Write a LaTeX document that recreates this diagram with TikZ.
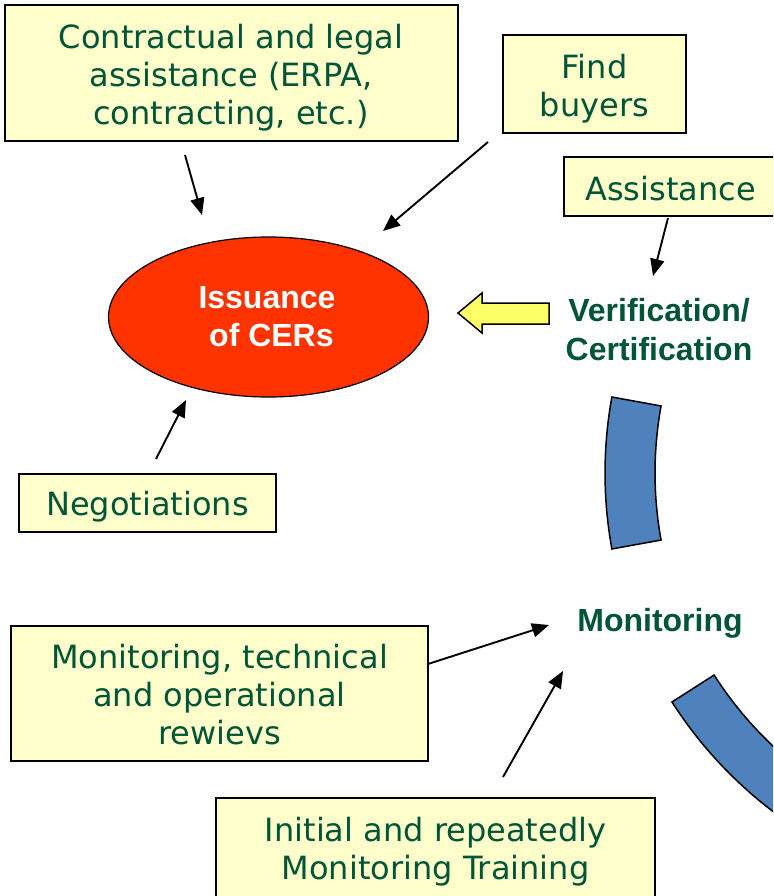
\documentclass[tikz,border=0pt]{standalone}
\usepackage{fontspec}
\setmainfont{DejaVu Sans}
\newfontfamily\labfont{Liberation Sans}
\usetikzlibrary{arrows.meta,shapes.geometric,calc}
\definecolor{txtgreen}{RGB}{0,84,56}
\definecolor{boxfill}{RGB}{255,255,204}
\definecolor{cerred}{RGB}{255,51,0}
\definecolor{arryellow}{RGB}{255,255,102}
\definecolor{cycblue}{RGB}{79,129,189}
\tikzset{
  infobox/.style={draw=black, line width=1.5pt, fill=boxfill, inner sep=0pt},
  boxtext/.style={text=txtgreen, align=center, inner sep=0pt,
    font=\fontsize{32}{38}\selectfont},
  steplabel/.style={text=txtgreen, align=center, inner sep=0pt,
    font=\labfont\bfseries\fontsize{32}{39}\selectfont},
  conn/.style={draw=black, line width=1.9pt, -{Triangle[length=17pt,width=14pt]}},
  cycband/.style={fill=cycblue, draw=black, line width=1.5pt, line join=miter},
}
\begin{document}
\begin{tikzpicture}[x=1pt,y=-1pt]
\useasboundingbox (0,0) rectangle (773,896);
\clip (0,0) rectangle (773,896);
\fill[white] (0,0) rectangle (773,896);

% cycle bands
\coordinate (cc) at (1030,473);
\draw[cycband] ($(cc)+(169.7:425)$) arc[start angle=169.7, end angle=190.3, radius=425]
  -- ($(cc)+(190.3:375)$) arc[start angle=190.3, end angle=169.7, radius=375] -- cycle;
\draw[cycband] ($(cc)+(147.4:425)$) arc[start angle=147.4, end angle=118, radius=425]
  -- ($(cc)+(118:375)$) arc[start angle=118, end angle=147.4, radius=375] -- cycle;

% boxes
\node[infobox, minimum width=453pt, minimum height=136pt] (contr) at (231.5,73) {};
\node[boxtext] (contr-t) at (231,77.5) {Contractual and legal\\assistance (ERPA,\\contracting, etc.)};
\node[infobox, minimum width=183pt, minimum height=98pt] (buyers) at (594.5,84) {};
\node[boxtext] (buyers-t) at (594.5,88.5) {Find\\buyers};
\node[infobox, minimum width=213pt, minimum height=59pt] (assist) at (670.5,186.5) {};
\node[boxtext] (assist-t) at (670.5,188.5) {Assistance};
\node[infobox, minimum width=257pt, minimum height=58pt] (negot) at (147.5,503) {};
\node[boxtext] (negot-t) at (147.5,507) {Negotiations};
\node[infobox, minimum width=417pt, minimum height=135pt] (montech) at (219.5,693.5) {};
\node[boxtext] (montech-t) at (219.5,695) {Monitoring, technical\\and operational\\rewievs};
\node[infobox, minimum width=439pt, minimum height=102pt] (train) at (435.5,849) {};
\node[boxtext] (train-t) at (435.5,852) {Initial and repeatedly\\Monitoring Training};

% ellipse
\node[ellipse, draw=black, line width=1.2pt, fill=cerred, minimum width=320pt, minimum height=160pt,
  inner sep=0pt] (cer) at (268.5,317) {};
\node[text=white, align=center, inner sep=0pt, font=\labfont\bfseries\fontsize{32}{38}\selectfont]
  (cer-t) at (267,316.5) {Issuance\\\ of CERs};

% step labels
\node[steplabel] (verif) at (659,329.5) {Verification/\\Certification};
\node[steplabel] (monit) at (660,623.5) {Monitoring};

% yellow block arrow
\draw[fill=arryellow, draw=black, line width=1.5pt, line join=miter]
  (549,303) -- (482,303) -- (482,293) -- (458,313) -- (482,333) -- (482,324) -- (549,324) -- cycle;

% connectors
\coordinate (c1s) at (185,155);  \coordinate (c1e) at (202,215);
\coordinate (c2s) at (488,142);  \coordinate (c2e) at (383,231);
\coordinate (c3s) at (668,218);  \coordinate (c3e) at (653,276);
\coordinate (c4s) at (156,459);  \coordinate (c4e) at (186,400);
\coordinate (c5s) at (428,664);  \coordinate (c5e) at (549,625);
\coordinate (c6s) at (503,777);  \coordinate (c6e) at (563,671);
\draw[conn] (c1s) -- (c1e);
\draw[conn] (c2s) -- (c2e);
\draw[conn] (c3s) -- (c3e);
\draw[conn] (c4s) -- (c4e);
\draw[conn] (c5s) -- (c5e);
\draw[conn] (c6s) -- (c6e);
\end{tikzpicture}
\end{document}
